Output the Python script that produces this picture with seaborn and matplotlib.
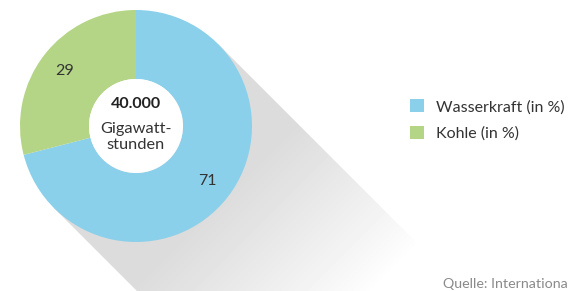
import numpy as np
import matplotlib.pyplot as plt
import seaborn as sns
from matplotlib.patches import Polygon, Patch, Circle

sns.set_theme(style='white')
plt.rcParams['font.family'] = ['Lato', 'DejaVu Sans']

# Daten
kategorien = ['Wasserkraft (in %)', 'Kohle (in %)']
werte = [71, 29]
farben = ['#8bd0ea', '#b4d486']
mitte_zahl = '40.000'
mitte_text = 'Gigawatt-\nstunden'
quelle = 'Quelle: Internationa'

W, H = 572, 291
fig = plt.figure(figsize=(W / 100, H / 100), dpi=100)
ax = fig.add_axes([0, 0, 1, 1])

cx, cy, r, r_in = 136, H - 126, 116, 47

# langer Schatten nach rechts unten
xs, ys = np.meshgrid(np.arange(W) + 0.5, np.arange(H) + 0.5)
t = ((xs - cx) - (ys - cy)) / np.sqrt(2)
shade = np.clip((285 - t) / 175, 0, 1) ** 0.9
img = 1 - 0.14 * shade
d = r / np.sqrt(2)
L = 500
poly = Polygon([(cx + d, cy + d), (cx - d, cy - d),
                (cx - d + L, cy - d - L), (cx + d + L, cy + d - L)],
               closed=True, transform=ax.transData, facecolor='none', edgecolor='none')
ax.add_patch(poly)
im = ax.imshow(img, cmap='gray', vmin=0, vmax=1, extent=[0, W, 0, H],
               origin='lower', zorder=0, interpolation='bilinear')
im.set_clip_path(poly)

wedges, _, autotexts = ax.pie(
    werte, colors=farben, startangle=90, counterclock=False,
    center=(cx, cy), radius=r, autopct=lambda p: f'{p:.0f}', pctdistance=0.78,
    wedgeprops=dict(width=r - r_in, edgecolor='none'), frame=True,
    textprops=dict(fontsize=11.5, color='#333333'))
ax.add_patch(Circle((cx, cy), r_in, facecolor='white', edgecolor='none', zorder=3))
ax.set_xlim(0, W)
ax.set_ylim(0, H)
ax.set_aspect('equal')
ax.axis('off')

ax.text(cx, H - 104, mitte_zahl, ha='center', va='center', fontsize=11.5,
        fontweight='bold', color='#222222', zorder=4)
ax.text(cx, H - 137, mitte_text, ha='center', va='center', fontsize=11.8,
        color='#333333', linespacing=1.2, zorder=4)

handles = [Patch(facecolor=c, edgecolor='none') for c in farben]
ax.legend(handles, kategorien, loc='upper left', bbox_to_anchor=(396 / W, 1 - 85 / H),
          frameon=False, fontsize=11.5, handlelength=0.85, handleheight=0.85,
          handletextpad=0.75, labelspacing=0.75, labelcolor='#333333')

fig.text(443 / W, 1 - 284 / H, quelle, ha='left', va='center', fontsize=10.3,
         color='#8a8a8a')

fig.savefig('out.png', dpi=100)
